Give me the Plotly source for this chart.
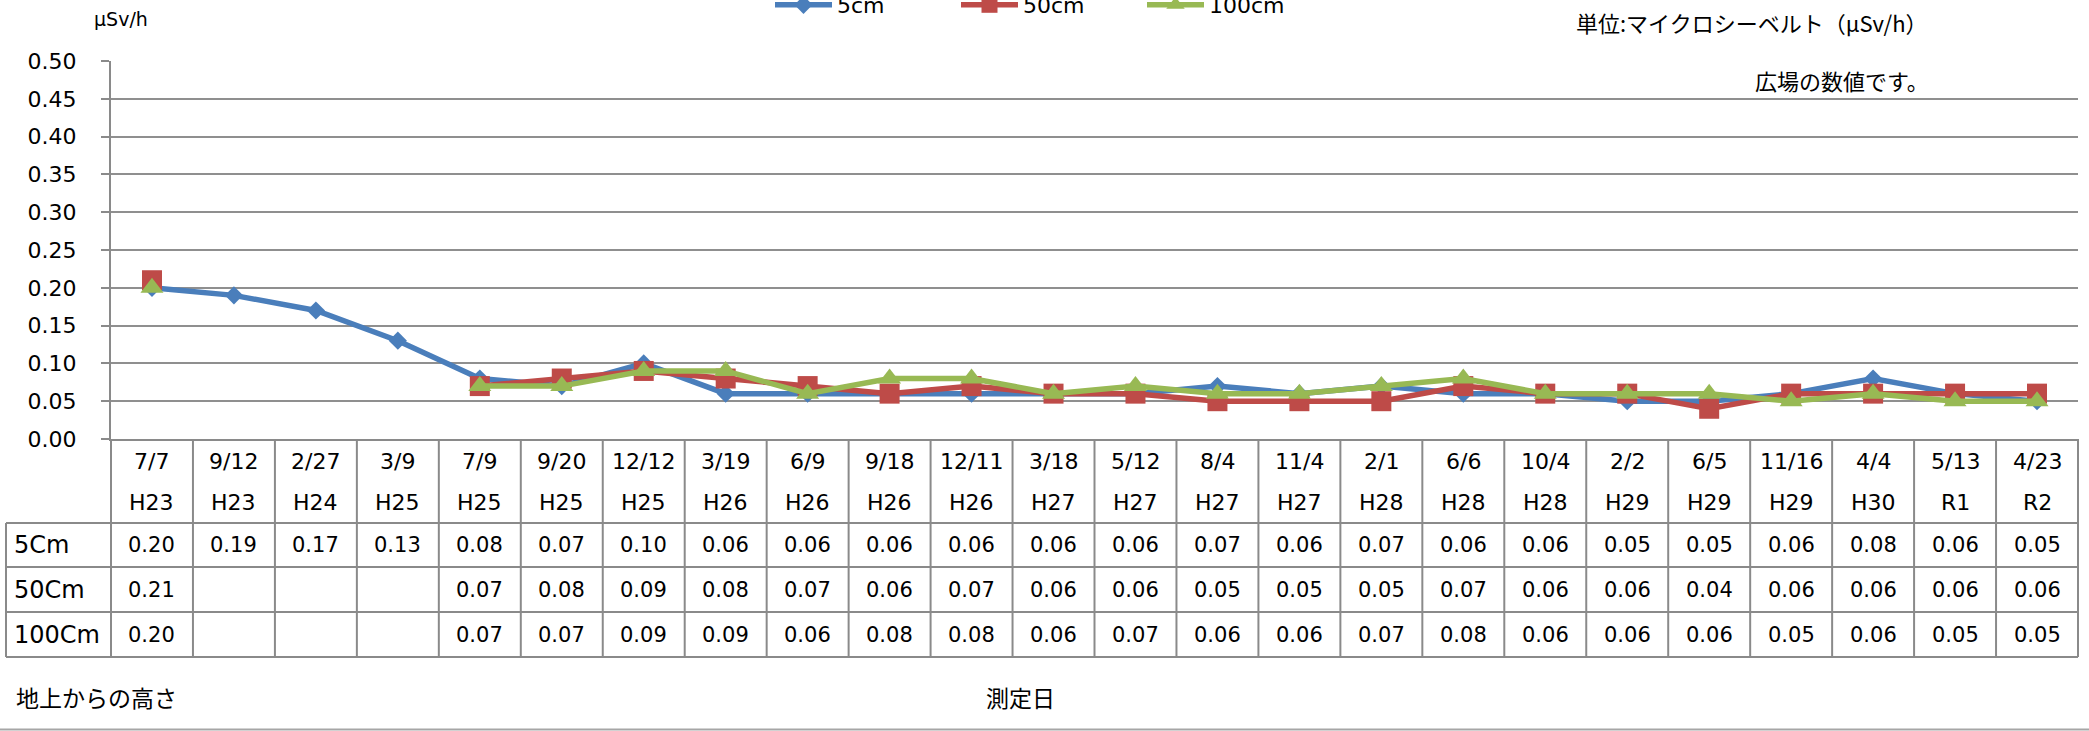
import plotly.graph_objects as go

# ---------------- data ----------------
dates = ["7/7", "9/12", "2/27", "3/9", "7/9", "9/20", "12/12", "3/19", "6/9", "9/18",
         "12/11", "3/18", "5/12", "8/4", "11/4", "2/1", "6/6", "10/4", "2/2", "6/5",
         "11/16", "4/4", "5/13", "4/23"]
years = ["H23", "H23", "H24", "H25", "H25", "H25", "H25", "H26", "H26", "H26",
         "H26", "H27", "H27", "H27", "H27", "H28", "H28", "H28", "H29", "H29",
         "H29", "H30", "R1", "R2"]
cm5 = [0.20, 0.19, 0.17, 0.13, 0.08, 0.07, 0.10, 0.06, 0.06, 0.06, 0.06, 0.06,
       0.06, 0.07, 0.06, 0.07, 0.06, 0.06, 0.05, 0.05, 0.06, 0.08, 0.06, 0.05]
cm50 = [0.21, None, None, None, 0.07, 0.08, 0.09, 0.08, 0.07, 0.06, 0.07, 0.06,
        0.06, 0.05, 0.05, 0.05, 0.07, 0.06, 0.06, 0.04, 0.06, 0.06, 0.06, 0.06]
cm100 = [0.20, None, None, None, 0.07, 0.07, 0.09, 0.09, 0.06, 0.08, 0.08, 0.06,
         0.07, 0.06, 0.06, 0.07, 0.08, 0.06, 0.06, 0.06, 0.05, 0.06, 0.05, 0.05]
series_names = ["5cm", "50cm", "100cm"]
row_labels = ["5Cm", "50Cm", "100Cm"]

# ---------------- layout geometry (pixels) ----------------
W, H = 2089, 731
L, R, T, B = 111, 11, 61, 292
PW = W - L - R
PH = H - T - B


def py(p):
    return (H - B - p) / PH


def pxp(p):
    return (p - L) / PW


FONT = "DejaVu Sans"
JFONT = "Noto Sans CJK JP"
GRID = "#8f8f8f"
TAB = "#8a8a8a"

colors = ["#4A7EBB", "#BE4B48", "#98B954"]
symbols = ["diamond", "square", "triangle-up"]
sizes = [14, 20, 20]

fig = go.Figure()
xs = list(range(len(dates)))
for name, vals, c, s, sz in zip(series_names, [cm5, cm50, cm100], colors, symbols, sizes):
    fig.add_trace(go.Scatter(
        x=xs, y=vals, name=name, mode="lines+markers",
        line=dict(color=c, width=5.5),
        marker=dict(symbol=s, size=sz, color=c),
        connectgaps=False, cliponaxis=False,
    ))

shapes = []
annotations = []

# table grid: vertical lines
y_axis_px = 439
row_bounds = [523, 567, 612, 657]
left_px = 6
for k in range(len(dates) + 1):
    if k == 0:
        xr, xv = "paper", 0
    elif k == len(dates):
        xr, xv = "paper", 1
    else:
        xr, xv = "x", k - 0.5
    shapes.append(dict(type="line", xref=xr, yref="paper", x0=xv, x1=xv,
                       y0=py(y_axis_px), y1=py(row_bounds[-1]),
                       line=dict(color=TAB, width=2)))
# left border of row labels column
shapes.append(dict(type="line", xref="paper", yref="paper", x0=pxp(left_px), x1=pxp(left_px),
                   y0=py(row_bounds[0]), y1=py(row_bounds[-1]), line=dict(color=TAB, width=2)))
# horizontal lines
for rb in row_bounds:
    shapes.append(dict(type="line", xref="paper", yref="paper", x0=pxp(left_px), x1=1,
                       y0=py(rb), y1=py(rb), line=dict(color=TAB, width=2)))
# bottom chart border
shapes.append(dict(type="line", xref="paper", yref="paper", x0=pxp(0), x1=pxp(W),
                   y0=py(729.5), y1=py(729.5), line=dict(color="#a6a6a6", width=2)))

tfont = dict(family=FONT, size=21, color="black")
hfont = dict(family=FONT, size=22, color="black")
for i, (d, yv) in enumerate(zip(dates, years)):
    annotations.append(dict(x=i, y=py(461), xref="x", yref="paper", text=d,
                            showarrow=False, font=hfont, xanchor="center", yanchor="middle"))
    annotations.append(dict(x=i, y=py(502), xref="x", yref="paper", text=yv,
                            showarrow=False, font=hfont, xanchor="center", yanchor="middle"))

row_centers = [(row_bounds[j] + row_bounds[j + 1]) / 2 for j in range(3)]
for lab, vals, rc in zip(row_labels, [cm5, cm50, cm100], row_centers):
    annotations.append(dict(x=pxp(12), y=py(rc), xref="paper", yref="paper", text=lab,
                            showarrow=False, font=dict(family=FONT, size=24, color="black"),
                            xanchor="left", yanchor="middle"))
    for i, v in enumerate(vals):
        if v is None:
            continue
        annotations.append(dict(x=i, y=py(rc), xref="x", yref="paper", text=f"{v:.2f}",
                                showarrow=False, font=tfont, xanchor="center", yanchor="middle"))

# other texts
annotations.append(dict(x=pxp(92), y=py(19), xref="paper", yref="paper", text="μSv/h",
                        showarrow=False, font=dict(family=FONT, size=19, color="black"),
                        xanchor="left", yanchor="middle"))
annotations.append(dict(x=pxp(1574), y=py(22), xref="paper", yref="paper",
                        text="単位:マイクロシーベルト（μSv/h）",
                        showarrow=False, font=dict(family=JFONT, size=22, color="black"),
                        xanchor="left", yanchor="middle"))
annotations.append(dict(x=pxp(1753), y=py(80), xref="paper", yref="paper",
                        text="広場の数値です。",
                        showarrow=False, font=dict(family=JFONT, size=22, color="black"),
                        xanchor="left", yanchor="middle"))
annotations.append(dict(x=pxp(14), y=py(697), xref="paper", yref="paper", text="地上からの高さ",
                        showarrow=False, font=dict(family=JFONT, size=23, color="black"),
                        xanchor="left", yanchor="middle"))
annotations.append(dict(x=pxp(1020), y=py(697), xref="paper", yref="paper", text="測定日",
                        showarrow=False, font=dict(family=JFONT, size=23, color="black"),
                        xanchor="center", yanchor="middle"))

fig.update_layout(
    width=W, height=H,
    margin=dict(l=L, r=R, t=T, b=B, autoexpand=False),
    paper_bgcolor="white", plot_bgcolor="white",
    showlegend=True,
    legend=dict(orientation="h", x=pxp(770), xanchor="left", y=py(-16), yanchor="top",
                itemwidth=57, entrywidth=114, font=dict(family=FONT, size=22, color="black"),
                bgcolor="rgba(0,0,0,0)"),
    xaxis=dict(range=[-0.5, len(dates) - 0.5], showticklabels=False, showgrid=False,
               ticks="", zeroline=False, showline=True, linecolor=TAB, linewidth=2,
               fixedrange=True),
    yaxis=dict(range=[0, 0.5], dtick=0.05, tick0=0, tickformat=".2f", showgrid=True,
               gridcolor=GRID, gridwidth=2, zeroline=False, showline=True, linecolor=TAB,
               linewidth=2, ticks="outside", ticklen=8, tickcolor=TAB, tickwidth=2,
               ticklabelstandoff=20, tickfont=dict(family=FONT, size=22, color="black"),
               fixedrange=True),
    shapes=shapes, annotations=annotations,
)

fig.write_html(
    "out.html",
    config={"displayModeBar": False},
    post_script="document.body.style.margin='0';document.body.style.padding='0';"
                "document.body.style.overflow='hidden';",
)
